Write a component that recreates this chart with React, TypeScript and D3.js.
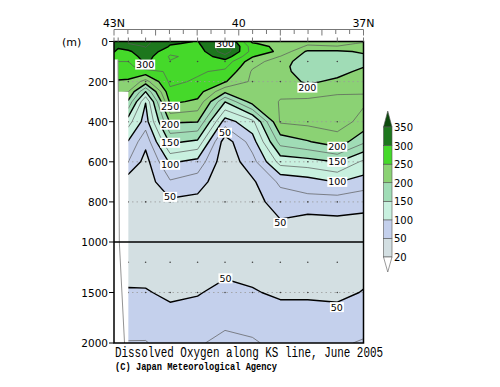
import React from "react";
import * as d3 from "d3";

// ---- data ----
const stationLats = [43.0, 42.9, 42.655, 42.24, 41.65, 40.99, 40.33, 39.67, 39.0, 38.34, 37.63, 37.0];
const depthLevels = [0, 10, 25, 50, 75, 100, 125, 150, 200, 250, 300, 400, 500, 600, 700, 800, 900, 1000, 1200, 1500, 1750, 2000];

const st00 = [322, 320, 312, 302, 290, 282, 270, 262, 247, 225, 195, 135, 98, 75, 35, 35, 34, 33, 38, 52, 65, 76];
const st01 = [318, 315, 305, 292, 283, 275, 268, 260, 248, 230, 195, 135, 98, 75, 35, 35, 34, 33, 38, 52, 65, 76];
const st02 = [325, 325, 315, 295, 285, 275, 268, 260, 247, 225, 195, 135, 98, 75, 35, 34, 33, 33, 40, 52, 65, 76];
const st03 = [330, 330, 326, 320, 312, 305, 290, 265, 215, 150, 101, 88, 57, 40, 35, 33, 32, 32, 38, 52, 66, 76];
const st04 = [305, 302, 298, 282, 272, 276, 278, 279, 280, 270, 256, 203, 155, 104, 72, 45, 38, 34, 36, 45, 58, 68];
const st05 = [299, 297, 292, 285, 282, 280, 280, 278, 272, 262, 245, 201, 145, 92, 62, 42, 37, 34, 38, 48, 62, 73];
const st06 = [335, 340, 345, 340, 315, 290, 280, 270, 252, 205, 151, 88, 35, 32, 30, 30, 30, 31, 40, 58, 70, 80];
const st07 = [245, 252, 262, 265, 252, 235, 228, 222, 220, 218, 212, 118, 88, 65, 46, 40, 38, 35, 40, 52, 68, 77];
const st08 = [238, 240, 242, 245, 224, 212, 208, 208, 212, 222, 226, 228, 185, 135, 80, 62, 48, 40, 38, 46, 60, 70];
const st09 = [230, 228, 222, 195, 188, 185, 185, 188, 196, 210, 232, 232, 198, 140, 88, 66, 40, 36, 38, 46, 60, 70];
const st10 = [235, 232, 224, 196, 185, 180, 182, 192, 205, 222, 232, 235, 215, 151, 101, 62, 45, 38, 37, 45, 58, 72];
const st11 = [228, 222, 212, 203, 196, 195, 199, 206, 215, 224, 228, 218, 180, 120, 90, 55, 46, 40, 42, 51, 65, 77];
const profiles = [st00, st01, st02, st03, st04, st05, st06, st07, st08, st09, st10, st11];

const fillLevels = [20, 50, 100, 150, 200, 250, 300, 350];
const fillColors = ["#d3dfe2", "#c4d0ec", "#c8f0df", "#a0dcb6", "#8bd274", "#45d92a", "#1d771d", "#0c4a0c"];
const lineLevels = [50, 75, 100, 125, 150, 175, 200, 225, 250, 275, 300, 325];

const depthTicks = [0, 200, 400, 600, 800, 1000, 1500, 2000];
const latTickValues = [43, 40, 37];
const latTickLabels = ["43N", "40", "37N"];
const gridDepths = [200, 400, 600, 800, 1500];
const dotDepths = [100, 200, 400, 600, 800, 1200, 1500];
const dotStations = [42.655, 42.24, 41.65, 40.99, 40.33, 39.67, 39.0, 38.34, 37.63];

const labelLats = [42.25, 41.65, 41.65, 41.65, 41.65, 41.65, 40.33, 40.33, 38.35, 37.63, 37.63, 37.63, 39.0, 40.32, 37.64];
const labelDepths = [115, 325, 415, 505, 615, 775, 455, 8, 230, 525, 600, 700, 905, 1360, 1645];
const labelTexts = ["300", "250", "200", "150", "100", "50", "50", "300", "200", "200", "150", "100", "50", "50", "50"];

const maskLats = [43.0, 42.9, 42.9, 42.655, 42.655, 43.0];
const maskDepths = [90, 90, 250, 250, 2000, 2000];
const bottomLats = [42.905, 42.885, 42.872, 42.747];
const bottomDepths = [90, 500, 1000, 2000];

const titleText = "Dissolved Oxygen along KS line, June 2005";
const creditText = "(C) Japan Meteorological Agency";

// ---- layout ----
const X0 = 114, X1 = 363.5, Y0 = 41.5, Y1 = 343;
const x = d3.scaleLinear().domain([43, 37]).range([X0, X1]);
const y = d3.scaleLinear().domain([0, 1000, 2000]).range([Y0, 242, Y1]);

const nx = stationLats.length;
const ny = depthLevels.length;
const values: number[] = new Array(nx * ny);
for (let j = 0; j < ny; j++) for (let i = 0; i < nx; i++) values[j * nx + i] = profiles[i][j];

function idxInterp(arr: number[], c: number) {
  const s = Math.max(0, Math.min(arr.length - 1, c - 0.5));
  const i0 = Math.floor(s);
  const i1 = Math.min(arr.length - 1, i0 + 1);
  const t = s - i0;
  return arr[i0] + (arr[i1] - arr[i0]) * t;
}
const px = (c: number) => x(idxInterp(stationLats, c));
const py = (c: number) => y(idxInterp(depthLevels, c));

function fillPath(mp: any) {
  return mp.coordinates
    .map((poly: number[][][]) =>
      poly.map((ring) => "M" + ring.map(([a, b]) => `${px(a).toFixed(2)},${py(b).toFixed(2)}`).join("L") + "Z").join("")
    )
    .join("");
}

const near = (a: number, b: number) => Math.abs(a - b) < 0.01;
function onSameEdge(p: number[], q: number[]) {
  return (near(p[0], X0) && near(q[0], X0)) || (near(p[0], X1) && near(q[0], X1)) ||
    (near(p[1], Y0) && near(q[1], Y0)) || (near(p[1], Y1) && near(q[1], Y1));
}
function linePath(mp: any) {
  let d = "";
  mp.coordinates.forEach((poly: number[][][]) => {
    poly.forEach((ring) => {
      const pts = ring.map(([a, b]) => [px(a), py(b)]);
      let penDown = false;
      for (let k = 1; k < pts.length; k++) {
        const p = pts[k - 1], q = pts[k];
        if (onSameEdge(p, q)) { penDown = false; continue; }
        if (!penDown) { d += `M${p[0].toFixed(2)},${p[1].toFixed(2)}`; penDown = true; }
        d += `L${q[0].toFixed(2)},${q[1].toFixed(2)}`;
      }
    });
  });
  return d;
}

export default function App() {
  const fills = d3.contours().size([nx, ny]).thresholds(fillLevels)(values);
  const lines = d3.contours().size([nx, ny]).thresholds(lineLevels)(values);

  const maskPts = maskLats.map((la, i) => `${x(la)},${y(maskDepths[i])}`).join(" ");
  const bottomLine = d3.line<number>().x((la) => x(la)).y((_, i) => y(bottomDepths[i]))(bottomLats) || "";

  const legendY = d3.scaleLinear().domain([0, fillLevels.length - 1]).range([257, 127]);
  const LX0 = 383.5, LX1 = 392;

  const minorTicks = d3.range(0, 19).map((k) => 43 - k / 3);

  return (
    <svg width={500} height={387} style={{ display: "block", position: "absolute", left: 0, top: 0, background: "#fff" }}
      fontFamily="'DejaVu Sans', sans-serif">
      <defs>
        <clipPath id="plotclip">
          <rect x={X0} y={Y0} width={X1 - X0} height={Y1 - Y0} />
        </clipPath>
      </defs>
      <g clipPath="url(#plotclip)">
        <rect x={X0} y={Y0} width={X1 - X0} height={Y1 - Y0} fill="#ffffff" />
        {fills.map((mp, i) => (
          <path key={"f" + i} d={fillPath(mp)} fill={fillColors[i]} fillRule="evenodd" stroke="none" />
        ))}
        {gridDepths.map((dp) => (
          <line key={"g" + dp} x1={X0} x2={X1} y1={y(dp)} y2={y(dp)} stroke="#9a9a9a" strokeWidth={0.8} strokeDasharray="1.5,3" />
        ))}
        {dotDepths.map((dp) =>
          dotStations.map((la) => <circle key={`d${dp}-${la}`} cx={x(la)} cy={y(dp)} r={0.8} fill="#444" />)
        )}
        {lines.map((mp, i) => {
          const thick = lineLevels[i] % 50 === 0;
          return (
            <path key={"l" + i} d={linePath(mp)} fill="none" stroke={thick ? "#000" : "#5a5a5a"}
              strokeWidth={thick ? 1.4 : 0.7} strokeLinejoin="round" />
          );
        })}
        <polygon points={maskPts} fill="#ffffff" />
        <path d={bottomLine} fill="none" stroke="#777" strokeWidth={0.8} />
        {labelTexts.map((t, i) => {
          const cx = x(labelLats[i]);
          const cy = y(labelDepths[i]);
          const w = t.length * 6 + 2;
          return (
            <g key={"lb" + i}>
              <rect x={cx - w / 2} y={cy - 5} width={w} height={10} fill="#fff" />
              <text x={cx} y={cy + 3.5} textAnchor="middle" fontSize={9.5} fill="#000">{t}</text>
            </g>
          );
        })}
      </g>
      {/* 1000 m separator */}
      <line x1={X0} x2={X1} y1={y(1000)} y2={y(1000)} stroke="#000" strokeWidth={1.6} />
      {/* frame */}
      <rect x={X0} y={Y0} width={X1 - X0} height={Y1 - Y0} fill="none" stroke="#000" strokeWidth={1.5} />

      {/* left axis */}
      {depthTicks.map((dp) => (
        <g key={"yt" + dp}>
          <line x1={X0 - 5} x2={X0} y1={y(dp)} y2={y(dp)} stroke="#000" strokeWidth={1} />
          <text x={X0 - 6} y={y(dp) + 4} textAnchor="end" fontSize={10.5} fill="#000">{dp}</text>
        </g>
      ))}
      <text x={62} y={46} fontSize={11} fill="#000">(m)</text>

      {/* top axis */}
      <line x1={X0} x2={X1} y1={29.5} y2={29.5} stroke="#777" strokeWidth={1} />
      {minorTicks.map((la, i) => (
        <line key={"mt" + i} x1={x(la)} x2={x(la)} y1={29.5} y2={i % 3 === 0 ? 35.5 : 34} stroke="#777" strokeWidth={1} />
      ))}
      {stationLats.map((la, i) => (
        <line key={"st" + i} x1={x(la)} x2={x(la)} y1={37.5} y2={Y0} stroke="#777" strokeWidth={1} />
      ))}
      {latTickValues.map((la, i) => (
        <text key={"xl" + i} x={x(la)} y={27} textAnchor="middle" fontSize={11} fill="#000">{latTickLabels[i]}</text>
      ))}

      {/* legend */}
      <polygon points={`${LX0},${legendY(7)} ${LX1},${legendY(7)} ${(LX0 + LX1) / 2},${legendY(7) - 16}`}
        fill={fillColors[7]} stroke="#555" strokeWidth={0.6} />
      {fillLevels.slice(0, -1).map((lv, k) => (
        <rect key={"lg" + lv} x={LX0} y={legendY(k + 1)} width={LX1 - LX0} height={legendY(k) - legendY(k + 1)}
          fill={fillColors[k]} stroke="#555" strokeWidth={0.6} />
      ))}
      <polygon points={`${LX0},${legendY(0)} ${LX1},${legendY(0)} ${(LX0 + LX1) / 2},${legendY(0) + 15}`}
        fill="#ffffff" stroke="#555" strokeWidth={0.6} />
      {fillLevels.map((lv, k) => (
        <text key={"ll" + lv} x={LX1 + 2} y={legendY(k) + 4} fontSize={10} fill="#000">{lv}</text>
      ))}

      {/* title */}
      <text x={115} y={357} fontFamily="'Liberation Mono', monospace" fontSize={14} textLength={268}
        lengthAdjust="spacingAndGlyphs" fill="#000">{titleText}</text>
      <text x={115} y={370} fontFamily="'Liberation Mono', monospace" fontWeight="bold" fontSize={10.5}
        textLength={162} lengthAdjust="spacingAndGlyphs" fill="#000">{creditText}</text>
    </svg>
  );
}
